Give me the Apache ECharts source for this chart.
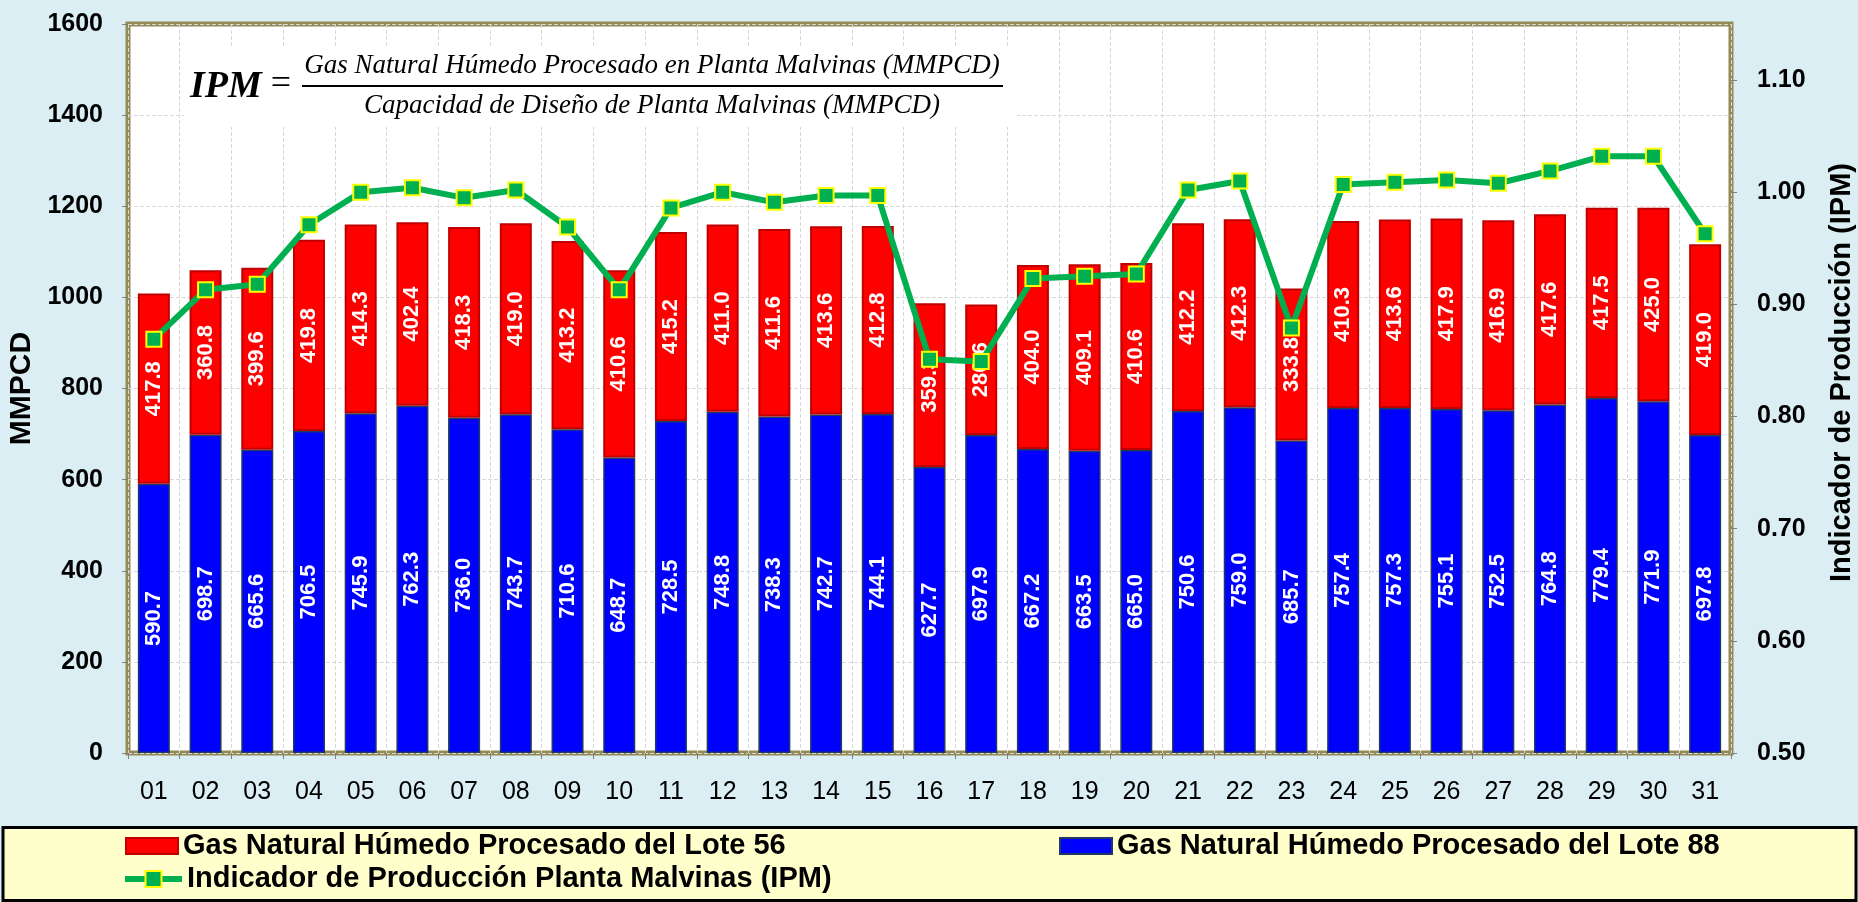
<!DOCTYPE html>
<html><head><meta charset="utf-8">
<script src="https://cdn.jsdelivr.net/npm/echarts@6/dist/echarts.min.js"></script>
<style>html,body{margin:0;padding:0;background:#DAEEF3;} #c{width:1858px;height:902px;}</style>
</head><body><div id="c"></div>
<script>
const categories = ['01','02','03','04','05','06','07','08','09','10','11','12','13','14','15','16','17','18','19','20','21','22','23','24','25','26','27','28','29','30','31'];
const lote88 = [590.7, 698.7, 665.6, 706.5, 745.9, 762.3, 736.0, 743.7, 710.6, 648.7, 728.5, 748.8, 738.3, 742.7, 744.1, 627.7, 697.9, 667.2, 663.5, 665.0, 750.6, 759.0, 685.7, 757.4, 757.3, 755.1, 752.5, 764.8, 779.4, 771.9, 697.8];
const lote56 = [417.8, 360.8, 399.6, 419.8, 414.3, 402.4, 418.3, 419.0, 413.2, 410.6, 415.2, 411.0, 411.6, 413.6, 412.8, 359.3, 286.6, 404.0, 409.1, 410.6, 412.2, 412.3, 333.8, 410.3, 413.6, 417.9, 416.9, 417.6, 417.5, 425.0, 419.0];
const ipm = [0.869, 0.913, 0.918, 0.971, 1.000, 1.004, 0.995, 1.002, 0.969, 0.913, 0.986, 1.000, 0.991, 0.997, 0.997, 0.851, 0.849, 0.923, 0.925, 0.927, 1.002, 1.010, 0.879, 1.007, 1.009, 1.011, 1.008, 1.019, 1.032, 1.032, 0.963];
const leftTicks = {min: 0, max: 1600, interval: 200};
const rightTicks = {min: 0.5, max: 1.15, interval: 0.1};
const name56 = 'Gas Natural Húmedo Procesado del Lote 56';
const name88 = 'Gas Natural Húmedo Procesado del Lote 88';
const nameIPM = 'Indicador de Producción Planta Malvinas (IPM)';
const leftTitle = 'MMPCD';
const rightTitle = 'Indicador de Producción (IPM)';
const formulaLeft = 'IPM';
const formulaNum = 'Gas Natural Húmedo Procesado en Planta Malvinas (MMPCD)';
const formulaDen = 'Capacidad de Diseño de Planta Malvinas (MMPCD)';

const FONT = '"Liberation Sans", Arial, sans-serif';
const SERIF = '"Liberation Serif", "Times New Roman", serif';
const chart = echarts.init(document.getElementById('c'), null, {renderer: 'canvas'});
const legendText = {fontFamily: FONT, fontSize: 29, fontWeight: 'bold', color: '#000', lineHeight: 30};
const barLabel = {show: true, position: 'inside', rotate: 90, color: '#fff', fontFamily: FONT, fontSize: 22, fontWeight: 'bold', formatter: p => p.value.toFixed(1)};
const option = {
  backgroundColor: '#DAEEF3',
  animation: false,
  grid: {left: 128, right: 127, top: 24, bottom: 149, show: true, backgroundColor: '#FFFFFF', borderColor: '#948A54', borderWidth: 5,
    containLabel: false, outerBoundsMode: 'none'},
  xAxis: {
    type: 'category', data: categories,
    axisLine: {show: false},
    axisTick: {show: true, length: 6, lineStyle: {color: '#808080'}},
    axisLabel: {fontFamily: FONT, fontSize: 25, color: '#000', margin: 27},
    splitLine: {show: true, interval: 0, lineStyle: {color: '#D9D9D9', type: 'dashed', width: 1}}
  },
  yAxis: [
    {
      type: 'value', min: leftTicks.min, max: leftTicks.max, interval: leftTicks.interval,
      name: leftTitle, nameLocation: 'middle', nameRotate: 90, nameGap: 80,
      nameTextStyle: {fontFamily: FONT, fontSize: 30, fontWeight: 'bold', color: '#000'},
      axisLine: {show: false},
      axisTick: {show: true, length: 6, lineStyle: {color: '#808080'}},
      axisLabel: {fontFamily: FONT, fontSize: 25, fontWeight: 'bold', color: '#000', margin: 25, formatter: v => String(v)},
      splitLine: {show: true, lineStyle: {color: '#D9D9D9', type: 'dashed', width: 1}}
    },
    {
      type: 'value', position: 'right', min: rightTicks.min, max: rightTicks.max, interval: rightTicks.interval,
      name: rightTitle, nameLocation: 'middle', nameRotate: 90, nameGap: 96,
      nameTextStyle: {fontFamily: FONT, fontSize: 29, fontWeight: 'bold', color: '#000', padding: [0, 0, 0, 32]},
      axisLine: {show: false},
      axisTick: {show: true, length: 6, lineStyle: {color: '#808080'}},
      axisLabel: {fontFamily: FONT, fontSize: 25, fontWeight: 'bold', color: '#000', margin: 26, showMaxLabel: false,
        formatter: v => v > 1.12 ? '' : v.toFixed(2)},
      splitLine: {show: false}
    }
  ],
  legend: [
    {data: [name56], left: 125, top: 831, padding: 0, icon: 'rect', itemWidth: 52, itemHeight: 16, textStyle: legendText},
    {data: [name88], left: 1059, top: 831, padding: 0, icon: 'rect', itemWidth: 52, itemHeight: 16, textStyle: legendText},
    {data: [nameIPM], left: 122, top: 864, padding: 0, itemWidth: 57, itemHeight: 20, textStyle: legendText,
      lineStyle: {width: 6, color: '#00B050'},
      itemStyle: {color: '#00B050', borderColor: '#FFFF00', borderWidth: 2}}
  ],
  graphic: [
    {type: 'rect', shape: {x: 3, y: 827.5, width: 1853, height: 73}, style: {fill: '#FFFFCC', stroke: '#000', lineWidth: 3}, z: 0},
    {type: 'rect', shape: {x: 184, y: 47, width: 833, height: 80}, style: {fill: '#FFFFFF'}, z: 1},
    {type: 'text', x: 190, y: 87, style: {text: formulaLeft, font: 'italic bold 38px ' + SERIF, fill: '#000', align: 'left', verticalAlign: 'middle'}, z: 3},
    {type: 'text', x: 281, y: 85, style: {text: '=', font: '36px ' + SERIF, fill: '#000', align: 'center', verticalAlign: 'middle'}, z: 3},
    {type: 'text', x: 652, y: 66, style: {text: formulaNum, font: 'italic 27px ' + SERIF, fill: '#000', align: 'center', verticalAlign: 'middle'}, z: 3},
    {type: 'line', shape: {x1: 302, y1: 86, x2: 1003, y2: 86}, style: {stroke: '#000', lineWidth: 2}, z: 3},
    {type: 'text', x: 652, y: 106, style: {text: formulaDen, font: 'italic 27px ' + SERIF, fill: '#000', align: 'center', verticalAlign: 'middle'}, z: 3}
  ],
  series: [
    {name: name88, type: 'bar', stack: 'gas', data: lote88, barWidth: 32,
      itemStyle: {color: '#0000FF', borderColor: '#1F3864', borderWidth: 1.5}, label: barLabel},
    {name: name56, type: 'bar', stack: 'gas', data: lote56, barWidth: 32,
      itemStyle: {color: '#FF0000', borderColor: '#C00000', borderWidth: 2}, label: barLabel},
    {name: nameIPM, type: 'line', yAxisIndex: 1, data: ipm, z: 5,
      symbol: 'rect', symbolSize: 15,
      lineStyle: {color: '#00B050', width: 6},
      itemStyle: {color: '#00B050', borderColor: '#FFFF00', borderWidth: 2}}
  ]
};
chart.setOption(option);
</script>
</body></html>
